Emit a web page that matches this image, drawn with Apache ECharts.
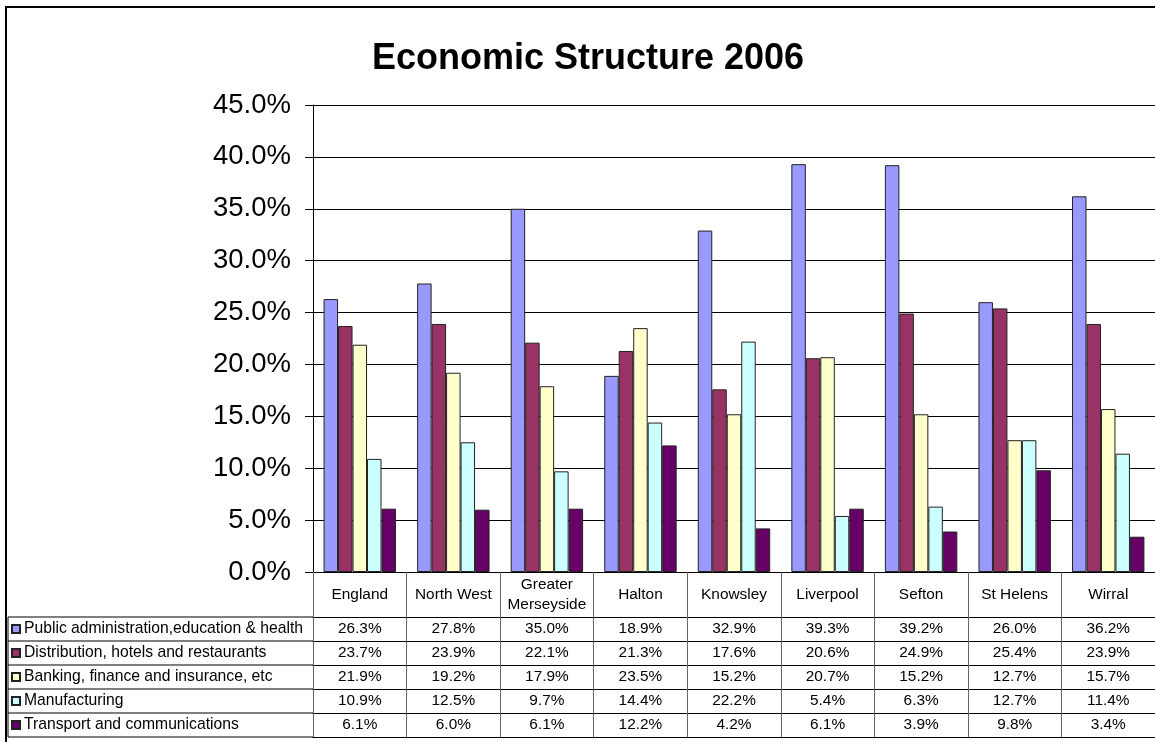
<!DOCTYPE html>
<html>
<head>
<meta charset="utf-8">
<script src="https://cdn.jsdelivr.net/npm/echarts@6/dist/echarts.min.js"></script>
<style>
html,body{margin:0;padding:0;background:#fff;}
#chart{width:1155px;height:742px;}
</style>
</head>
<body>
<div id="chart"></div>
<script>
// ---- data ----
const categories = ['England', 'North West', 'Greater\nMerseyside', 'Halton', 'Knowsley', 'Liverpool', 'Sefton', 'St Helens', 'Wirral'];
const seriesNames = [
  'Public administration,education & health',
  'Distribution, hotels and restaurants',
  'Banking, finance and insurance, etc',
  'Manufacturing',
  'Transport and communications'
];
const publicAdmin   = [26.3, 27.8, 35.0, 18.9, 32.9, 39.3, 39.2, 26.0, 36.2];
const distribution  = [23.7, 23.9, 22.1, 21.3, 17.6, 20.6, 24.9, 25.4, 23.9];
const banking       = [21.9, 19.2, 17.9, 23.5, 15.2, 20.7, 15.2, 12.7, 15.7];
const manufacturing = [10.9, 12.5, 9.7, 14.4, 22.2, 5.4, 6.3, 12.7, 11.4];
const transport     = [6.1, 6.0, 6.1, 12.2, 4.2, 6.1, 3.9, 9.8, 3.4];
const yMin = 0, yMax = 45, yInterval = 5;

// ---- styling / layout ----
const colors = ['#9999FF', '#993366', '#FFFFCC', '#CCFFFF', '#660066'];
const FONT = 'Liberation Sans, Arial, sans-serif';
const gridLeft = 313, gridTop = 105, gridWidth = 845, gridHeight = 467;
const headerH = 45, rowH = 24;
const tableLeft = 8;
const tableFont = 15.4;

const allSeries = [publicAdmin, distribution, banking, manufacturing, transport];

const chart = echarts.init(document.getElementById('chart'), null, {renderer: 'canvas'});

const xAxes = [{
  type: 'category',
  data: categories,
  gridIndex: 0,
  position: 'bottom',
  boundaryGap: true,
  axisLine: {show: true, lineStyle: {color: '#000', width: 1}},
  axisTick: {show: true, interval: 0, length: headerH + rowH * 5, lineStyle: {color: '#666', width: 1}},
  axisLabel: {interval: 0, margin: headerH / 2, verticalAlign: 'middle', color: '#000',
    fontFamily: FONT, fontSize: tableFont, lineHeight: 20, align: 'center'},
  splitLine: {show: false}
}];
allSeries.forEach((vals, i) => {
  xAxes.push({
    type: 'category',
    data: categories,
    gridIndex: 0,
    position: 'bottom',
    offset: headerH + rowH * i,
    axisLine: {show: true, lineStyle: {color: '#000', width: 1}},
    axisTick: {show: false},
    axisLabel: {interval: 0, margin: rowH / 2, verticalAlign: 'middle', color: '#000',
      fontFamily: FONT, fontSize: tableFont,
      formatter: (v, idx) => vals[idx].toFixed(1) + '%'},
    splitLine: {show: false}
  });
});
xAxes.push({
  type: 'category',
  data: categories,
  gridIndex: 0,
  position: 'bottom',
  offset: headerH + rowH * 5,
  axisLine: {show: true, lineStyle: {color: '#000', width: 1}},
  axisTick: {show: false},
  axisLabel: {show: false}
});

const option = {
  backgroundColor: '#fff',
  animation: false,
  title: {
    text: 'Economic Structure 2006',
    left: 583,
    textAlign: 'center',
    top: 36,
    textStyle: {fontFamily: FONT, fontSize: 36, fontWeight: 'bold', color: '#000'}
  },
  legend: {
    orient: 'vertical',
    left: 11,
    top: gridTop + gridHeight + headerH,
    padding: 0,
    itemGap: 0,
    itemWidth: 8,
    itemHeight: 8,
    icon: 'rect',
    data: seriesNames,
    textStyle: {fontFamily: FONT, fontSize: 15.7, color: '#000', lineHeight: rowH, padding: [0, 0, 0, -1]}
  },
  grid: {left: gridLeft, top: gridTop, width: gridWidth, height: gridHeight, containLabel: false},
  xAxis: xAxes,
  yAxis: {
    type: 'value',
    min: yMin, max: yMax, interval: yInterval,
    axisLine: {show: true, lineStyle: {color: '#000', width: 1}},
    axisTick: {show: true, length: 8, lineStyle: {color: '#000'}},
    axisLabel: {margin: 22, color: '#000', fontFamily: FONT, fontSize: 27.5,
      formatter: v => v.toFixed(1) + '%'},
    splitLine: {show: true, lineStyle: {color: '#000', width: 1}}
  },
  series: allSeries.map((vals, i) => ({
    name: seriesNames[i],
    type: 'bar',
    xAxisIndex: 0,
    data: vals,
    barGap: '0%',
    barCategoryGap: '22.6%',
    itemStyle: {color: colors[i], borderColor: '#222', borderWidth: 1}
  })),
  graphic: []
};

chart.setOption(option);

// table frame for the legend column, derived from the layout constants
const tableTop = gridTop + gridHeight + headerH;
const g = [];
for (let i = 0; i <= 5; i++) {
  g.push({type: 'line', silent: true,
    shape: {x1: tableLeft, y1: tableTop + rowH * i, x2: gridLeft, y2: tableTop + rowH * i},
    style: {stroke: '#000', lineWidth: 1}});
}
g.push({type: 'line', silent: true,
  shape: {x1: tableLeft, y1: tableTop, x2: tableLeft, y2: tableTop + rowH * 5},
  style: {stroke: '#000', lineWidth: 1}});
// outer chart border
g.push({type: 'rect', silent: true, z: 100,
  shape: {x: 6, y: 7, width: 1200, height: 800},
  style: {fill: 'none', stroke: '#000', lineWidth: 2}});
chart.setOption({graphic: g});
</script>
</body>
</html>
